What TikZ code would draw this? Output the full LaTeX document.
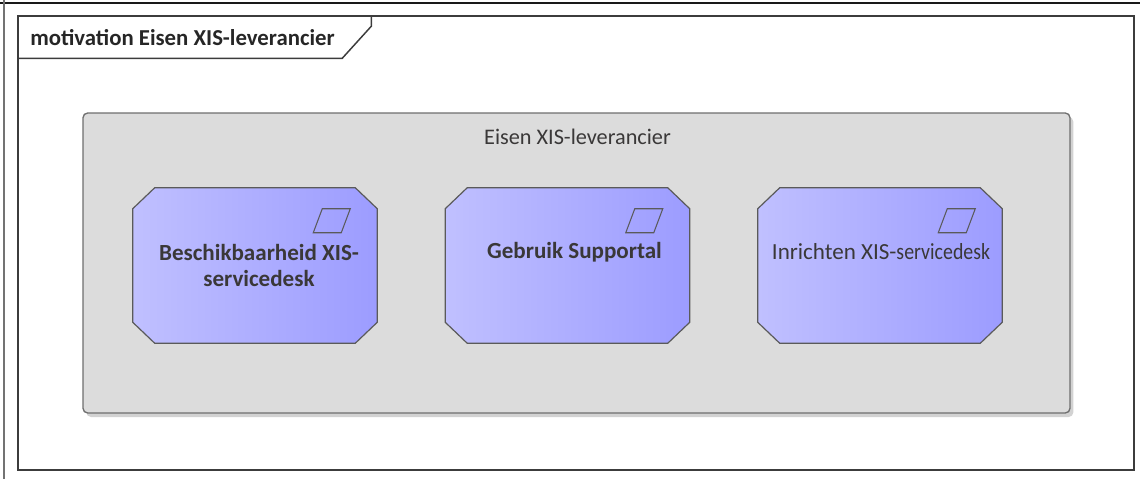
\documentclass[tikz,border=0pt]{standalone}
\usepackage{fontspec}
\setmainfont{Carlito}
\usetikzlibrary{shadows,calc}
\definecolor{framec}{HTML}{3C3C3C}
\definecolor{grayfill}{HTML}{DCDCDC}
\definecolor{grayline}{HTML}{6E6E6E}
\definecolor{gl}{HTML}{C0C0FF}
\definecolor{gd}{HTML}{9C9CFF}
\definecolor{goalline}{HTML}{5A5A5A}
\definecolor{txt}{HTML}{3A3838}
\tikzset{
  framebox/.style={draw=framec,line width=1.1pt,minimum width=837pt,minimum height=340.5pt,inner sep=0pt},
  groupbox/.style={draw=grayline,fill=grayfill,line width=1pt,rounded corners=3.5pt,minimum width=740.25pt,minimum height=225pt,inner sep=0pt,
    drop shadow={shadow xshift=2.5pt,shadow yshift=-3pt,fill=black!22,opacity=0.8}},
  goalbox/.style={rectangle,minimum width=183pt,minimum height=116.25pt,inner sep=0pt},
  goalshape/.style={draw=goalline,line width=0.9pt,left color=gl,middle color=gl!88!gd,right color=gd},
  goaltext/.style={text=txt,font=\fontsize{17.3}{19.5}\selectfont\bfseries,align=center,inner sep=0pt},
  icon/.style={draw=goalline,line width=0.8pt},
  titletext/.style={text=black!85,font=\fontsize{17.1}{20}\selectfont\bfseries,inner sep=0pt,anchor=west},
  grouptext/.style={text=txt,font=\fontsize{16.7}{19}\selectfont,inner sep=0pt}
}
\newcommand{\drawgoal}[1]{%
  \path[goalshape] ($(#1.north west)+(22,0)$) -- ($(#1.north east)+(-22,0)$) -- ($(#1.north east)+(0,21)$)
    -- ($(#1.south east)+(0,-21)$) -- ($(#1.south east)+(-22,0)$) -- ($(#1.south west)+(22,0)$)
    -- ($(#1.south west)+(0,-21)$) -- ($(#1.north west)+(0,21)$) -- cycle;
  \draw[icon] ($(#1.north east)+(-55,21)$) -- ($(#1.north east)+(-27,21)$) -- ($(#1.north east)+(-36,45)$) -- ($(#1.north east)+(-64,45)$) -- cycle;
}
\begin{document}
\begin{tikzpicture}[x=0.75pt,y=-0.75pt]
\useasboundingbox (0,0) rectangle (1140,479);
\draw[black!90,line width=0.9pt] (0,3) -- (1140,3);
\draw[black!55,line width=0.9pt] (4,0) -- (4,479);
\node[framebox] (frame) at (576,243) {};
\draw[framec,line width=1.1pt] ($(frame.north west)+(0,43)$) -- ($(frame.north west)+(325,43)$) -- ($(frame.north west)+(354,11)$) -- ($(frame.north west)+(354,0)$);
\node[titletext] (title) at (30,37.5) {motivation Eisen XIS-leverancier};
\node[groupbox] (group) at (576.5,263) {};
\node[grouptext] (glabel) at (577.5,137) {Eisen XIS-leverancier};
\node[goalbox] (g1) at (255,265.5) {};
\node[goalbox] (g2) at (567.5,265.5) {};
\node[goalbox] (g3) at (880,265.5) {};
\drawgoal{g1}
\drawgoal{g2}
\drawgoal{g3}
\node[goaltext] (t1) at (259,265) {Beschikbaarheid XIS-\\servicedesk};
\node[goaltext] (t2) at (574.5,252) {Gebruik Supportal};
\node[text=txt,font=\fontsize{17.3}{19}\selectfont,inner sep=0pt] (t3) at (881,252) {Inrichten XIS-\scalebox{0.86}[1]{servicedesk}};
\end{tikzpicture}
\end{document}
